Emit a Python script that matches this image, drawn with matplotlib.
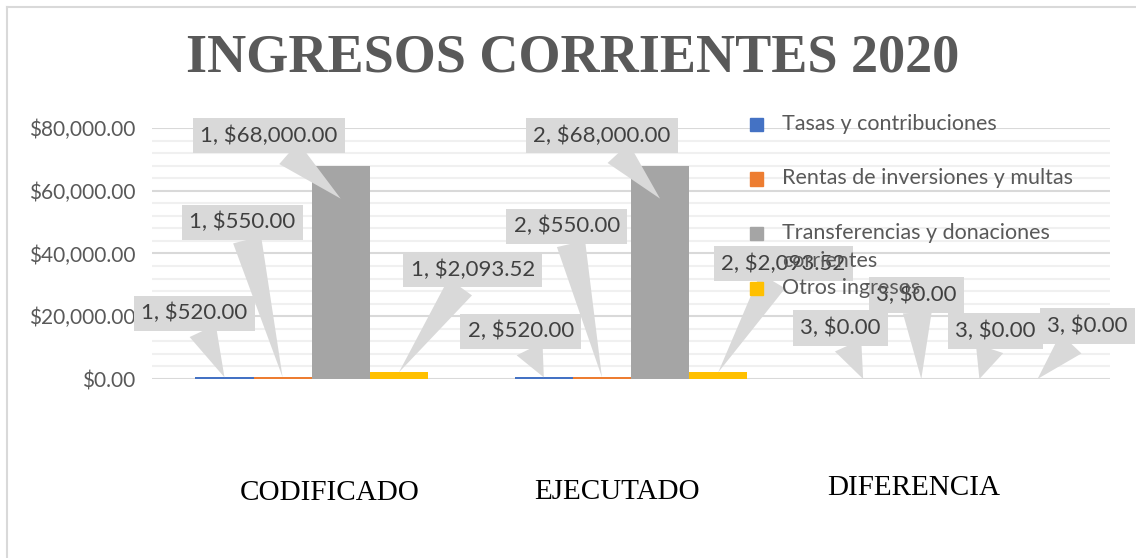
import textwrap
import matplotlib
matplotlib.use("Agg")
import matplotlib.pyplot as plt
import matplotlib.transforms as mtransforms
from matplotlib.patches import Rectangle
from matplotlib.lines import Line2D
from matplotlib.ticker import MultipleLocator
import numpy as np

categorias = ["CODIFICADO", "EJECUTADO", "DIFERENCIA"]
series = ["Tasas y contribuciones", "Rentas de inversiones y multas",
          "Transferencias y donaciones corrientes", "Otros ingresos"]
tasas = [520.00, 520.00, 0.00]
rentas = [550.00, 550.00, 0.00]
transferencias = [68000.00, 68000.00, 0.00]
otros = [2093.52, 2093.52, 0.00]
yticks = [0, 20000, 40000, 60000, 80000]

colores = ["#4472C4", "#ED7D31", "#A5A5A5", "#FFC000"]

# callout box offsets (pixels) from the pointer tip, [categoria][serie]
offs = [
    [(-30, 64), (-40, 155), (-72, 63), (74, 103)],
    [(-23, 46), (-35, 151), (-58, 63), (65, 109)],
    [(-23, 51), (-5, 84), (16, 48), (50, 53)],
]
dip = [0, 0, 33, 0]  # tip goes a bit inside the tall bar

W, H = 1136, 558
fig = plt.figure(figsize=(W / 100, H / 100), dpi=100)
fig.patch.set_facecolor("white")
ax = fig.add_axes([152 / W, (H - 379) / H, (1110 - 152) / W, 251 / H])

sans = ["Lato", "DejaVu Sans"]
serif = ["Liberation Serif", "DejaVu Serif"]

valores = [tasas, rentas, transferencias, otros]
x = np.arange(len(categorias))
w = 0.182
for j, (vals, col) in enumerate(zip(valores, colores)):
    xs = x + (j - 1.5) * w
    ax.bar(xs, vals, w, color=col, zorder=2)
    for i in range(len(categorias)):
        d = dip[j] if vals[i] > 0 else 0
        tipo = mtransforms.offset_copy(ax.transData, fig=fig, y=-d, units="dots")
        ax.annotate(f"{i + 1}, ${vals[i]:,.2f}", xy=(xs[i], vals[i]), xycoords=tipo,
                    xytext=offs[i][j], textcoords="offset pixels",
                    ha="center", va="center", fontsize=16, family=sans, color="#404040",
                    bbox=dict(boxstyle="square,pad=0.33", fc="#D9D9D9", ec="none"),
                    arrowprops=dict(arrowstyle="wedge,tail_width=1.3", fc="#D9D9D9",
                                    ec="none", shrinkA=0, shrinkB=0),
                    zorder=3, annotation_clip=False)

ax.set_xlim(-0.5, 2.5)
ax.set_ylim(0, 80000)
ax.set_yticks(yticks)
ax.set_yticklabels([f"${v:,.2f}" for v in yticks], fontsize=15, family=sans, color="#595959")
ax.yaxis.set_minor_locator(MultipleLocator(4000))
ax.set_xticks([])
ax.tick_params(axis="y", which="both", length=0, pad=12)
ax.grid(axis="y", which="major", color="#D9D9D9", lw=1.5, zorder=0)
ax.grid(axis="y", which="minor", color="#F0F0F0", lw=1.5, zorder=0)
ax.set_axisbelow(True)
for s in ax.spines.values():
    s.set_visible(False)

# category names under the plot, in the serif face of the original
cat_dx = [18, -14, -37]
cat_dy = [-114, -113, -109]
for i, c in enumerate(categorias):
    ax.annotate(c, xy=(x[i], 0), xycoords=("data", "axes fraction"),
                xytext=(cat_dx[i], cat_dy[i]), textcoords="offset pixels",
                ha="center", va="center", fontsize=21, family=serif, color="black")

fig.text(573 / W, 1 - 58 / H, "INGRESOS CORRIENTES 2020", ha="center", va="center",
         fontsize=39, fontweight="bold", family=serif, color="#595959")

# legend, Excel style inside the plot area (wrapped names run onto the next line)
for k, (name, col) in enumerate(zip(series, colores)):
    yy = 124 + 54.5 * k
    fig.patches.append(Rectangle((750 / W, 1 - (yy + 7) / H), 13 / W, 13 / H,
                                 transform=fig.transFigure, color=col, figure=fig))
    for m, line in enumerate(textwrap.wrap(name, 30)):
        fig.text(782 / W, 1 - (yy + 28 * m) / H, line, ha="left", va="center",
                 fontsize=15.5, family=sans, color="#595959")

# chart border
fig.add_artist(Line2D([7 / W, 7 / W], [0, 1 - 7 / H], transform=fig.transFigure,
                      color="#D9D9D9", lw=1.5))
fig.add_artist(Line2D([7 / W, 1], [1 - 7 / H, 1 - 7 / H], transform=fig.transFigure,
                      color="#D9D9D9", lw=1.5))

fig.savefig("out.png", dpi=100)
